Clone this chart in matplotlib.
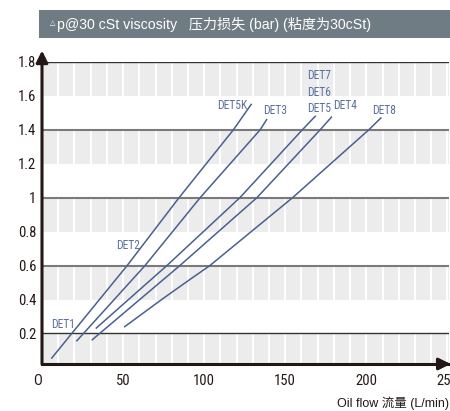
import matplotlib
matplotlib.use("Agg")
import matplotlib.pyplot as plt
from matplotlib.patches import Rectangle
from matplotlib.transforms import ScaledTranslation

# courbes (débit L/min, perte de charge bar)
det5k_x = [6, 52.5, 84.5, 118, 129]
det5k_y = [0.055, 0.6, 1.0, 1.4, 1.55]
det3_x = [21.5, 63.5, 97.5, 134.5, 138.5]
det3_y = [0.157, 0.6, 1.0, 1.4, 1.46]
det5_x = [33.5, 77, 122, 160.5, 168.5]
det5_y = [0.232, 0.6, 1.0, 1.4, 1.48]
det4_x = [31, 85, 132.5, 171.5, 178.5]
det4_y = [0.163, 0.6, 1.0, 1.4, 1.475]
det8_x = [51, 74.5, 91.5, 103.5, 154.5, 201.5, 209]
det8_y = [0.24, 0.405, 0.52, 0.6, 1.0, 1.4, 1.47]

labels = ["DET1", "DET2", "DET5K", "DET3", "DET5", "DET6", "DET7", "DET4", "DET8"]
label_x = [5.5, 45.6, 107.7, 136.1, 163.8, 163.8, 163.8, 179.6, 203.5]
label_y = [0.254, 0.719, 1.543, 1.515, 1.528, 1.622, 1.721, 1.543, 1.512]

xticks = [0, 50, 100, 150, 200, 250]
xtick_labels = ["O", "50", "100", "150", "200", "250"]
yticks = [0.2, 0.4, 0.6, 0.8, 1.0, 1.2, 1.4, 1.6, 1.8]
ytick_labels = ["0.2", "0.4", "0.6", "0.8", "1", "1.2", "1.4", "1.6", "1.8"]

narrow = ["Roboto Condensed", "DejaVu Sans"]
cjk = ["Liberation Sans", "Noto Sans CJK SC", "DejaVu Sans"]
line_col = "#4b5f8e"
dark = "#231815"

fig = plt.figure(figsize=(4.5, 4.11), dpi=100)
ax = fig.add_axes([42 / 450, 1 - 364 / 411, 407 / 450, 302 / 411])
ax.set_xlim(0, 251)
ax.set_ylim(0.02, 1.8)

# bandes grises
for lo, hi in [(0.02, 0.2), (0.4, 0.6), (0.8, 1.0), (1.2, 1.4), (1.6, 1.8)]:
    ax.axhspan(lo, hi, color="#ececec", lw=0, zorder=0)
for xv in range(10, 251, 10):
    ax.axvline(xv, color="white", lw=1.4, zorder=1)
for yv in [0.6, 1.0, 1.4]:
    ax.axhline(yv, color="#7a7a7a", lw=1.5, zorder=2)
ax.axhline(0.2, color="#333333", lw=1.0, zorder=2)
ax.axhline(1.8, color="#333333", lw=1.0, zorder=2)

for xs, ys in [(det5k_x, det5k_y), (det3_x, det3_y), (det5_x, det5_y),
               (det4_x, det4_y), (det8_x, det8_y)]:
    ax.plot(xs, ys, color=line_col, lw=1.1, zorder=3)

for name, lx, ly in zip(labels, label_x, label_y):
    ax.text(lx, ly, name, color="#5a6f9c", fontsize=8.3, family=narrow,
            ha="left", va="center", zorder=4)

for side in ["top", "right", "left"]:
    ax.spines[side].set_visible(False)
ax.spines["bottom"].set_linewidth(2.2)
ax.spines["bottom"].set_color(dark)
ax.spines["bottom"].set_zorder(5)

# flèches des axes
ax.annotate("", xy=(0, 1.038), xytext=(0, 0), xycoords="axes fraction",
            arrowprops=dict(arrowstyle="-|>,head_length=0.7,head_width=0.35",
                            lw=2.2, color=dark, shrinkA=0, shrinkB=0,
                            mutation_scale=10), annotation_clip=False)
ax.annotate("", xy=(1.004, 0), xytext=(0.98, 0), xycoords="axes fraction",
            arrowprops=dict(arrowstyle="-|>,head_length=0.7,head_width=0.35",
                            lw=2.2, color=dark, shrinkA=0, shrinkB=0,
                            mutation_scale=10), annotation_clip=False)

ax.set_xticks(xticks)
ax.set_xticklabels(xtick_labels, family=narrow, fontsize=10.5, color=dark)
ax.set_yticks(yticks)
ax.set_yticklabels(ytick_labels, family=narrow, fontsize=10.5, color=dark)
ax.tick_params(axis="x", length=0, pad=7)
ax.tick_params(axis="y", length=0, pad=4)
# le "O" est un peu décalé vers la gauche
lab0 = ax.get_xticklabels()[0]
lab0.set_transform(lab0.get_transform() + ScaledTranslation(-0.05, 0, fig.dpi_scale_trans))

fig.text(449 / 450, 1 - 403 / 411, "Oil flow 流量 (L/min)", family=cjk,
         fontsize=9, color=dark, ha="right", va="center")

# bandeau du titre
fig.patches.append(Rectangle((39 / 450, 1 - 38 / 411), 411 / 450, 28 / 411,
                             transform=fig.transFigure, color="#6f7c84", lw=0))
fig.text(50 / 450, 1 - 23 / 411, "△", family=["DejaVu Sans"], fontsize=5,
         color="white", ha="left", va="center")
fig.text(57 / 450, 1 - 24 / 411, "p@30 cSt viscosity   压力损失 (bar) (粘度为30cSt)",
         family=cjk, fontsize=10.2, color="white", ha="left", va="center")

plt.savefig("out.png", dpi=100)
